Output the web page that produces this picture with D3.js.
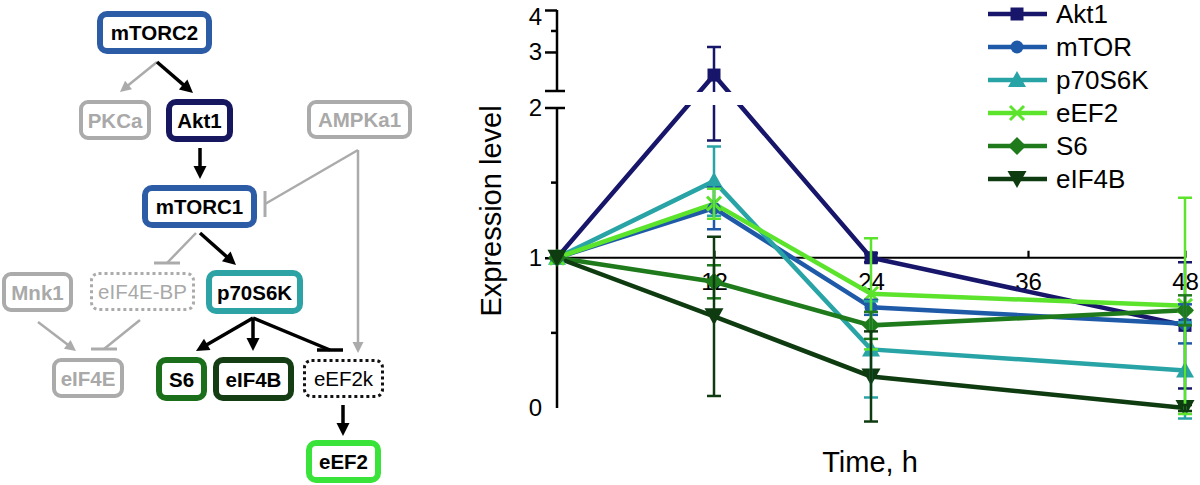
<!DOCTYPE html>
<html><head><meta charset="utf-8">
<script src="https://cdn.jsdelivr.net/npm/d3@7"></script>
<style>
html,body{margin:0;padding:0;background:#fff;}
svg{display:block;font-family:"Liberation Sans",Arial,Helvetica,sans-serif;}
</style></head>
<body>
<svg id="c" width="1200" height="485"></svg>
<script>
// ---------------- DATA ----------------
const timesH   = [0, 12, 24, 48];
const seriesNames = ["Akt1", "mTOR", "p70S6K", "eEF2", "S6", "eIF4B"];
const akt1     = [1.00, 2.45, 1.00, 0.55];
const akt1Err  = [0, 0.67, 0.03, 0.42];
const mtor     = [1.00, 1.33, 0.67, 0.56];
const mtorErr  = [0, 0.14, 0.05, 0.13];
const p70s6k   = [1.00, 1.51, 0.39, 0.25];
const p70s6kErr= [0, 0.23, 0.32, 0.32];
const eef2     = [1.00, 1.36, 0.76, 0.68];
const eef2Err  = [0, 0.10, 0.37, 0.72];
const s6       = [1.00, 0.84, 0.55, 0.65];
const s6Err    = [0, 0.11, 0.09, 0.10];
const eif4b    = [1.00, 0.61, 0.21, 0.00];
const eif4bErr = [0, 0.53, 0.30, 0.02];
const xTickLabels = [12, 24, 36, 48];
const yTicksLow = [0, 1, 2];
const yTicksHigh = [3, 4];
const yMinorLow = [0.5, 1.5];
const yMinorHigh = [3.5];

// diagram nodes
const nodeNames = ["mTORC2","PKCa","Akt1","AMPKa1","mTORC1","Mnk1","eIF4E-BP","p70S6K","eIF4E","S6","eIF4B","eEF2k","eEF2"];

// ---------------- STYLE / LAYOUT ----------------
const seriesColors = ["#17166a","#1f5aa8","#28a4a6","#5ce32c","#1f7a1c","#0f3b10"];
const seriesShapes = ["square","circle","triangle","x","diamond","triangleDown"];
const values = [akt1, mtor, p70s6k, eef2, s6, eif4b];
const errs = [akt1Err, mtorErr, p70s6kErr, eef2Err, s6Err, eif4bErr];

const svg = d3.select("#c");
const FONT = '"Liberation Sans",Arial,Helvetica,sans-serif';

// ===== Diagram =====
const gray = "#ababab";
const nodeLayout = {
  "mTORC2":  {x:100,y:14,w:109,h:37,c:"#2d5ca6",sw:6,bold:true,tc:"#000"},
  "PKCa":    {x:81,y:102,w:68,h:36,c:gray,sw:4,bold:true,tc:"#a9a9a9"},
  "Akt1":    {x:169,y:102,w:61,h:37,c:"#17175f",sw:6,bold:true,tc:"#000"},
  "AMPKa1":  {x:309,y:102,w:101,h:35,c:gray,sw:4,bold:true,tc:"#a9a9a9"},
  "mTORC1":  {x:145,y:188,w:109,h:37,c:"#2d5ca6",sw:6,bold:true,tc:"#000"},
  "Mnk1":    {x:4,y:274,w:67,h:36,c:gray,sw:4,bold:true,tc:"#a9a9a9"},
  "eIF4E-BP":{x:91.5,y:273.5,w:102,h:36,c:gray,sw:3,bold:false,tc:"#a9a9a9",dash:"3,3"},
  "p70S6K":  {x:209,y:273,w:91,h:38,c:"#2ea3a5",sw:6,bold:true,tc:"#000"},
  "eIF4E":   {x:54,y:360,w:68,h:36,c:gray,sw:4,bold:true,tc:"#a9a9a9"},
  "S6":      {x:159,y:360,w:45,h:38,c:"#1b6f1b",sw:6,bold:true,tc:"#000"},
  "eIF4B":   {x:216,y:360,w:75,h:38,c:"#143d14",sw:6,bold:true,tc:"#000"},
  "eEF2k":   {x:304.5,y:360.5,w:78,h:36,c:"#111",sw:3,bold:false,tc:"#000",dash:"3,3"},
  "eEF2":    {x:309,y:443,w:69,h:37,c:"#3ae33a",sw:6,bold:true,tc:"#000"}
};
const dg = svg.append("g");
nodeNames.forEach(n => {
  const L = nodeLayout[n];
  dg.append("rect").attr("x",L.x).attr("y",L.y).attr("width",L.w).attr("height",L.h)
    .attr("rx",7).attr("ry",7).attr("fill","#fff").attr("stroke",L.c).attr("stroke-width",L.sw)
    .attr("stroke-dasharray",L.dash||null);
  dg.append("text").attr("x",L.x+L.w/2).attr("y",L.y+L.h/2+7.5)
    .attr("text-anchor","middle").attr("font-size",20.5).attr("font-weight",L.bold?"bold":"normal")
    .attr("fill",L.tc).text(n);
});
// edges: [x1,y1,x2,y2,type,color]
const edges = [
  [157,62,120,92,"arrow",gray],
  [157,62,193,93,"arrow","#000"],
  [200,148,200,179,"arrow","#000"],
  [358,150,265,204,"inhib",gray],
  [358,150,358,353,"arrow",gray],
  [196,233,167,263,"inhib",gray],
  [200,233,236,265,"arrow","#000"],
  [38,322,76,351,"arrow",gray],
  [140,320,104,349,"inhib",gray],
  [253,318,196,351,"arrow","#000"],
  [253,318,253,351,"arrow","#000"],
  [253,318,330,350,"inhib","#000"],
  [343,405,343,436,"arrow","#000"]
];
const inhibBars = {3:"v",5:"h",8:"h",11:"h"};
edges.forEach((e,i) => {
  const [x1,y1,x2,y2,type,col] = e;
  const black = col === "#000";
  const sw = black ? 3.5 : 2.5;
  const dx = x2-x1, dy = y2-y1, len = Math.hypot(dx,dy), ux = dx/len, uy = dy/len;
  if (type === "arrow") {
    const hl = black ? 13 : 11, hw = black ? 6.5 : 5.5;
    const bx = x2-ux*hl, by = y2-uy*hl;
    dg.append("line").attr("x1",x1).attr("y1",y1).attr("x2",bx+ux*2).attr("y2",by+uy*2)
      .attr("stroke",col).attr("stroke-width",sw);
    dg.append("polygon").attr("points",
      `${x2},${y2} ${bx-uy*hw},${by+ux*hw} ${bx+uy*hw},${by-ux*hw}`).attr("fill",col);
  } else {
    dg.append("line").attr("x1",x1).attr("y1",y1).attr("x2",x2).attr("y2",y2)
      .attr("stroke",col).attr("stroke-width",sw);
    const o = inhibBars[i];
    const bl = 13;
    if (o === "v") dg.append("line").attr("x1",x2).attr("x2",x2).attr("y1",y2-bl).attr("y2",y2+bl)
      .attr("stroke",col).attr("stroke-width",3);
    else dg.append("line").attr("x1",x2-bl).attr("x2",x2+bl).attr("y1",y2).attr("y2",y2)
      .attr("stroke",col).attr("stroke-width",black?3.5:3);
  }
});

// ===== Chart =====
const x = d3.scaleLinear().domain([0,48]).range([557,1185]);
const yLow = d3.scaleLinear().domain([0,2]).range([408,107.5]);
const yHigh = d3.scaleLinear().domain([2.07,4]).range([91,10]);
const y = v => v > 2.07 ? yHigh(v) : yLow(v);
const axisX = 557;

const ax = svg.append("g").attr("stroke","#000").attr("fill","none");
ax.append("line").attr("x1",axisX).attr("x2",axisX).attr("y1",yHigh(4)).attr("y2",yHigh(2.07)).attr("stroke-width",2.5);
ax.append("line").attr("x1",axisX).attr("x2",axisX).attr("y1",yLow(2)).attr("y2",yLow(0)).attr("stroke-width",2.5);
const yAxisHigh = d3.axisLeft(yHigh).tickValues(yTicksHigh).tickSize(12).tickPadding(3).tickFormat(d3.format("d"));
const yAxisLow = d3.axisLeft(yLow).tickValues(yTicksLow).tickSize(12).tickPadding(3).tickFormat(d3.format("d"));
[yAxisHigh, yAxisLow].forEach(a => {
  const g = svg.append("g").attr("transform",`translate(${axisX},0)`).call(a);
  g.select(".domain").remove();
  g.selectAll(".tick line").attr("stroke","#000").attr("stroke-width",2.5);
  g.selectAll(".tick text").attr("font-size",24).attr("font-family",FONT).attr("fill","#000");
  g.selectAll(".tick").filter(d => d === 0).select("line").remove();
  g.selectAll(".tick").filter(d => d === 4).select("text").attr("dy","0.62em");
  g.selectAll(".tick").filter(d => d === 2).select("line").attr("x2",8).attr("x1",-12);
});
yMinorLow.forEach(v => ax.append("line").attr("x1",axisX-6).attr("x2",axisX).attr("y1",yLow(v)).attr("y2",yLow(v)).attr("stroke-width",2.5));
yMinorHigh.forEach(v => ax.append("line").attr("x1",axisX-6).attr("x2",axisX).attr("y1",yHigh(v)).attr("y2",yHigh(v)).attr("stroke-width",2.5));
ax.append("line").attr("x1",axisX-12).attr("x2",axisX+8).attr("y1",yHigh(2.07)).attr("y2",yHigh(2.07)).attr("stroke-width",2.5);

// x axis at y=1
const xAxisG = svg.append("g").attr("transform",`translate(0,${yLow(1)})`)
  .call(d3.axisTop(x).tickValues(xTickLabels).tickSize(7).tickFormat(d3.format("d")));
xAxisG.select(".domain").attr("stroke","#000").attr("stroke-width",2.2).attr("d",`M${axisX},0H${x(48)}`);
xAxisG.selectAll(".tick line").attr("stroke","#000").attr("stroke-width",2.2);
xAxisG.selectAll(".tick text").attr("y",32).attr("font-size",24).attr("font-family",FONT).attr("fill","#000");

// axis titles
svg.append("text").attr("transform","translate(501,211) rotate(-90)").attr("text-anchor","middle")
  .attr("font-size",29).attr("fill","#000").text("Expression level");
svg.append("text").attr("x",870).attr("y",472).attr("text-anchor","middle")
  .attr("font-size",29).attr("fill","#000").text("Time, h");

// clip for break gap
const defs = svg.append("defs");
const cp = defs.append("clipPath").attr("id","brk");
cp.append("rect").attr("x",0).attr("y",0).attr("width",1200).attr("height",92);
cp.append("rect").attr("x",0).attr("y",105).attr("width",1200).attr("height",380);

const plot = svg.append("g").attr("clip-path","url(#brk)");

function marker(g, shape, cx, cy, col) {
  if (shape === "square") g.append("rect").attr("x",cx-6.5).attr("y",cy-6.5).attr("width",13).attr("height",13).attr("fill",col);
  else if (shape === "circle") g.append("circle").attr("cx",cx).attr("cy",cy).attr("r",6.5).attr("fill",col);
  else if (shape === "triangle") g.append("polygon").attr("points",`${cx},${cy-9} ${cx-9},${cy+7} ${cx+9},${cy+7}`).attr("fill",col);
  else if (shape === "triangleDown") g.append("polygon").attr("points",`${cx},${cy+9} ${cx-9.5},${cy-8} ${cx+9.5},${cy-8}`).attr("fill",col);
  else if (shape === "diamond") g.append("polygon").attr("points",`${cx},${cy-9} ${cx+9},${cy} ${cx},${cy+9} ${cx-9},${cy}`).attr("fill",col);
  else if (shape === "x") {
    g.append("path").attr("d",`M${cx-7},${cy-7}L${cx+7},${cy+7}M${cx-7},${cy+7}L${cx+7},${cy-7}`)
      .attr("stroke",col).attr("stroke-width",3).attr("fill","none");
  }
}

const lineGen = d3.line().x(d => x(d.t)).y(d => y(d.v));
values.forEach((vals,si) => {
  const pts = timesH.map((t,i) => ({t, v: vals[i]}));
  plot.append("path").datum(pts).attr("d",lineGen).attr("fill","none")
    .attr("stroke",seriesColors[si]).attr("stroke-width",4.5).attr("stroke-linejoin","miter");
});
values.forEach((vals,si) => {
  timesH.forEach((t,i) => marker(plot, seriesShapes[si], x(t), y(vals[i]), seriesColors[si]));
});
values.forEach((vals,si) => {
  timesH.forEach((t,i) => {
    const e = errs[si][i];
    if (!e) return;
    const cx = x(t), top = y(vals[i]+e), bot = y(vals[i]-e);
    const col = seriesColors[si];
    plot.append("line").attr("x1",cx).attr("x2",cx).attr("y1",top).attr("y2",bot).attr("stroke",col).attr("stroke-width",2.5);
    [top,bot].forEach(yy => plot.append("line").attr("x1",cx-7).attr("x2",cx+7).attr("y1",yy).attr("y2",yy).attr("stroke",col).attr("stroke-width",2.5));
  });
});

// legend
const legY = d3.scalePoint().domain(seriesNames).range([14,179]);
const leg = svg.append("g");
seriesNames.forEach((n,si) => {
  const yy = legY(n);
  leg.append("line").attr("x1",988).attr("x2",1047).attr("y1",yy).attr("y2",yy).attr("stroke",seriesColors[si]).attr("stroke-width",4.5);
  marker(leg, seriesShapes[si], 1017, yy, seriesColors[si]);
  leg.append("text").attr("x",1056).attr("y",yy+9).attr("font-size",26).attr("fill","#000").text(n);
});
</script>
</body></html>
